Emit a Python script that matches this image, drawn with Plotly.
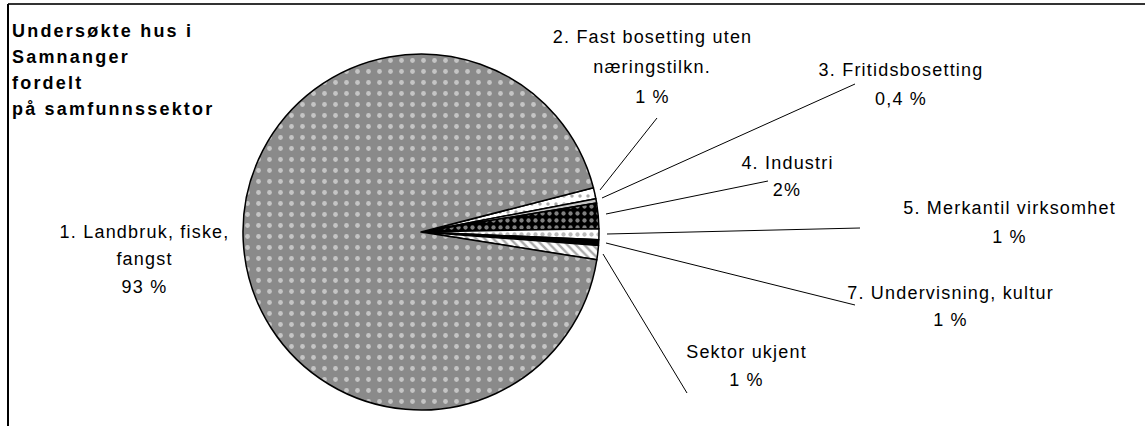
import plotly.graph_objects as go

W, H = 1145, 426

# data (clockwise, starting with the small slices at the top right)
sectors = [
    "2. Fast bosetting uten\nnæringstilkn.",
    "3. Fritidsbosetting",
    "4. Industri",
    "5. Merkantil virksomhet",
    "7. Undervisning, kultur",
    "Sektor ukjent",
    "1. Landbruk, fiske,\nfangst",
]
shares = [1.0, 0.4, 2.3, 1.0, 0.5, 1.3, 93.5]
share_labels = ["1 %", "0,4 %", "2%", "1 %", "1 %", "1 %", "93 %"]
title_lines = ["Undersøkte hus i", "Samnanger", "fordelt", "på samfunnssektor"]

# styles per slice
base_colors = ["white", "#c8c8c8", "black", "white", "black", "white", "#8a8a8a"]
pat_shapes = [".", "", ".", ".", "", "\\", "."]
pat_fg = ["#555555", "#c8c8c8", "white", "#777777", "black", "#555555", "white"]
pat_size = [8, 8, 7, 7, 8, 6, 11]
pat_solid = [0.15, 0.3, 0.3, 0.3, 0.3, 0.4, 0.15]

# label placement in pixels: centre x, first line y, line step, leader line
label_pos = [
    (652, 37, 30, (600, 190, 657, 118)),
    (901, 70, 29, (602, 198, 855, 84)),
    (787, 163, 27, (606, 214, 768, 181)),
    (1009, 208, 29, (607, 234, 860, 228)),
    (950, 293, 27, (606, 243, 855, 305)),
    (746, 352, 28, (603, 254, 687, 393)),
    (144, 231.5, 27.5, None),
]


def px(x):
    return x / W


def py(y):
    return 1 - y / H


cx, cy, r = 421, 232, 178

fig = go.Figure(go.Pie(
    values=shares,
    labels=[s.replace("\n", " ") for s in sectors],
    sort=False,
    direction="clockwise",
    rotation=75.6,
    textinfo="none",
    hoverinfo="label+percent",
    showlegend=False,
    domain=dict(x=[px(cx - r), px(cx + r)], y=[py(cy + r), py(cy - r)]),
    marker=dict(
        colors=base_colors,
        line=dict(color="black", width=1.5),
        pattern=dict(shape=pat_shapes, fgcolor=pat_fg, size=pat_size,
                     solidity=pat_solid, fillmode="overlay"),
    ),
))

font = dict(family="Liberation Sans, Arial, sans-serif", size=18, color="black")
annotations = []
shapes = []

for name, pct, (x, y0, step, lead) in zip(sectors, share_labels, label_pos):
    lines = name.split("\n") + [pct]
    for i, t in enumerate(lines):
        annotations.append(dict(
            text=t, x=px(x), y=py(y0 + i * step), xref="paper", yref="paper",
            xanchor="center", yanchor="middle", showarrow=False, font=font))
    if lead:
        x0, y0_, x1, y1 = lead
        shapes.append(dict(type="line", xref="paper", yref="paper",
                           x0=px(x0), y0=py(y0_), x1=px(x1), y1=py(y1),
                           line=dict(color="black", width=1)))

for i, t in enumerate(title_lines):
    annotations.append(dict(
        text="<b>" + t + "</b>", x=px(10), y=py(31 + i * 26), xref="paper", yref="paper",
        xanchor="left", yanchor="middle", align="left", showarrow=False,
        font=dict(family="Liberation Sans, Arial, sans-serif", size=18, color="black")))

# chart frame (top and left edges visible)
shapes.append(dict(type="line", xref="paper", yref="paper", x0=px(8), y0=py(4), x1=1, y1=py(4),
                   line=dict(color="#333333", width=2)))
shapes.append(dict(type="line", xref="paper", yref="paper", x0=px(8), y0=py(4), x1=px(8), y1=0,
                   line=dict(color="black", width=2)))

fig.update_layout(
    width=W, height=H,
    margin=dict(l=0, r=0, t=0, b=0),
    paper_bgcolor="white", plot_bgcolor="white",
    annotations=annotations, shapes=shapes,
)

# the original labels are letter-spaced; no page margin so pixels line up
spacing_js = """
document.body.style.margin = '0';
function spaceLetters() {
  document.querySelectorAll('.annotation-text').forEach(function (t) {
    t.style.letterSpacing = t.innerHTML.indexOf('bold') >= 0 ? '2.2px' : '1.2px';
  });
}
spaceLetters();
setTimeout(spaceLetters, 50);
"""

fig.write_html("out.html", config={"displayModeBar": False}, post_script=spacing_js)
